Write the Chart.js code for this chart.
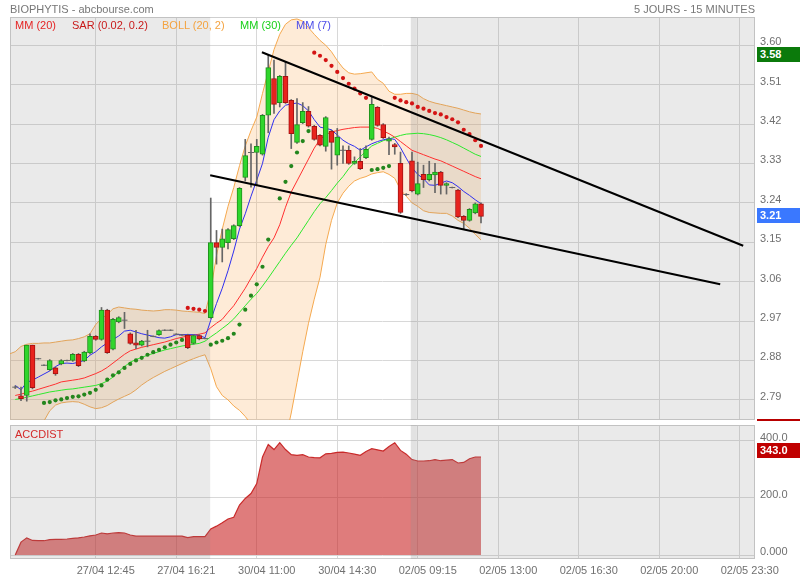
<!DOCTYPE html>
<html>
<head>
<meta charset="utf-8">
<title>BIOPHYTIS - abcbourse.com</title>
<script src="https://cdn.jsdelivr.net/npm/chart.js@4.4.1/dist/chart.umd.min.js"></script>
<style>
  html, body { margin: 0; padding: 0; background: #fff; }
  #page { position: relative; width: 800px; height: 580px; overflow: hidden; font-family: "Liberation Sans", Arial, sans-serif; }
  #page canvas { position: absolute; left: 0; }
  .txt { position: absolute; font-size: 11px; line-height: 12px; white-space: nowrap; }
  .badge { position: absolute; left: 757px; width: 43px; height: 15px; line-height: 15px; padding-left: 3px; box-sizing: border-box; color: #fff; font-size: 11px; font-weight: bold; }
</style>
</head>
<body>
<div id="page">
  <canvas id="priceChart" width="800" height="425" style="top:0"></canvas>
  <canvas id="accChart" width="800" height="160" style="top:420px"></canvas>

  <div class="txt" style="left:10px;top:3px;color:#777">BIOPHYTIS - abcbourse.com</div>
  <div class="txt" style="right:45px;top:3px;color:#777">5 JOURS - 15 MINUTES</div>

  <div class="txt" style="left:15px;top:19px;color:#e52424">MM (20)</div>
  <div class="txt" style="left:72px;top:19px;color:#c81a1a">SAR (0.02, 0.2)</div>
  <div class="txt" style="left:162px;top:19px;color:#f4a340">BOLL (20, 2)</div>
  <div class="txt" style="left:240px;top:19px;color:#18d018">MM (30)</div>
  <div class="txt" style="left:296px;top:19px;color:#4a4ae8">MM (7)</div>

  <div class="txt" style="left:15px;top:428px;color:#d42a2a">ACCDIST</div>
  <div style="position:absolute;left:757px;top:419px;width:43px;height:2px;background:#b80000"></div>

  <div class="badge" id="hiBadge" style="background:#0b7a0b"></div>
  <div class="badge" id="lastBadge" style="background:#3a78ff"></div>
  <div class="badge" id="accBadge" style="background:#c00000"></div>
</div>

<script>
// x axis: one slot per 15 min bar, labels every 14 bars
const tickIndex = [14, 28, 42, 56, 70, 84, 98, 112, 126];
const tickLabels = ['27/04 12:45', '27/04 16:21', '30/04 11:00', '30/04 14:30', '02/05 09:15',
                    '02/05 13:00', '02/05 16:30', '02/05 20:00', '02/05 23:30'];
const priceTicks = [2.79, 2.88, 2.97, 3.06, 3.15, 3.24, 3.33, 3.42, 3.51, 3.60];
const accTicks = [0, 200, 400];

const openP = [
  2.819, 2.799, 2.800, 2.915, 2.884, 2.869, 2.859, 2.863, 2.872, 2.880,
  2.880, 2.894, 2.879, 2.897, 2.935, 2.928, 2.995, 2.906, 2.968, 2.972,
  2.941, 2.920, 2.915, 2.924, 2.935, 2.939, 2.949, 2.949, 2.940, 2.938,
  2.938, 2.919, 2.937, 2.930, 2.978, 3.149, 3.138, 3.149, 3.158, 3.188,
  3.298, 3.355, 3.355, 3.351, 3.440, 3.524, 3.469, 3.529, 3.474, 3.378,
  3.423, 3.449, 3.415, 3.394, 3.369, 3.404, 3.349, 3.360, 3.360, 3.330,
  3.335, 3.343, 3.385, 3.458, 3.419, 3.381, 3.373, 3.330, 3.259, 3.336,
  3.260, 3.305, 3.293, 3.304, 3.310, 3.280, 3.275, 3.269, 3.209, 3.200,
  3.217, 3.238];
const highP = [
  2.822, 2.819, 2.915, 2.915, 2.885, 2.870, 2.882, 2.865, 2.882, 2.881,
  2.896, 2.896, 2.901, 2.941, 2.937, 3.001, 2.997, 2.976, 2.980, 2.990,
  2.943, 2.949, 2.926, 2.949, 2.936, 2.950, 2.950, 2.950, 2.941, 2.939,
  2.940, 2.939, 2.939, 2.931, 3.251, 3.177, 3.180, 3.181, 3.190, 3.275,
  3.385, 3.375, 3.385, 3.442, 3.577, 3.566, 3.531, 3.562, 3.476, 3.478,
  3.469, 3.460, 3.417, 3.396, 3.437, 3.406, 3.410, 3.370, 3.370, 3.345,
  3.364, 3.370, 3.481, 3.460, 3.421, 3.390, 3.376, 3.356, 3.261, 3.356,
  3.333, 3.326, 3.335, 3.330, 3.312, 3.286, 3.276, 3.271, 3.211, 3.227,
  3.240, 3.240];
const lowP = [
  2.816, 2.788, 2.787, 2.815, 2.883, 2.868, 2.857, 2.846, 2.870, 2.879,
  2.878, 2.866, 2.877, 2.895, 2.926, 2.926, 2.896, 2.904, 2.966, 2.953,
  2.917, 2.907, 2.913, 2.911, 2.934, 2.937, 2.948, 2.948, 2.939, 2.937,
  2.907, 2.917, 2.927, 2.929, 2.976, 3.100, 3.105, 3.135, 3.156, 3.186,
  3.290, 3.276, 3.280, 3.349, 3.400, 3.444, 3.459, 3.467, 3.364, 3.376,
  3.421, 3.413, 3.383, 3.370, 3.358, 3.317, 3.326, 3.330, 3.328, 3.328,
  3.316, 3.341, 3.383, 3.415, 3.387, 3.350, 3.351, 3.216, 3.257, 3.265,
  3.258, 3.275, 3.290, 3.263, 3.260, 3.260, 3.274, 3.206, 3.181, 3.198,
  3.215, 3.194];
const closeP = [
  2.819, 2.793, 2.915, 2.818, 2.884, 2.869, 2.880, 2.849, 2.880, 2.880,
  2.894, 2.868, 2.899, 2.935, 2.928, 2.995, 2.898, 2.974, 2.978, 2.972,
  2.919, 2.915, 2.924, 2.924, 2.935, 2.948, 2.949, 2.949, 2.940, 2.938,
  2.909, 2.937, 2.929, 2.930, 3.149, 3.138, 3.158, 3.179, 3.188, 3.273,
  3.348, 3.355, 3.369, 3.440, 3.549, 3.465, 3.529, 3.469, 3.398, 3.419,
  3.449, 3.415, 3.385, 3.372, 3.435, 3.378, 3.390, 3.360, 3.330, 3.335,
  3.318, 3.362, 3.465, 3.417, 3.389, 3.386, 3.368, 3.218, 3.259, 3.267,
  3.284, 3.293, 3.305, 3.310, 3.280, 3.284, 3.275, 3.208, 3.200, 3.225,
  3.238, 3.209];

const ma7 = [
  2.823, 2.813, 2.830, 2.835, 2.842, 2.849, 2.856, 2.866, 2.873, 2.874,
  2.873, 2.876, 2.880, 2.892, 2.900, 2.911, 2.920, 2.928, 2.936, 2.947,
  2.949, 2.945, 2.941, 2.938, 2.935, 2.932, 2.931, 2.934, 2.939, 2.939,
  2.939, 2.939, 2.937, 2.932, 2.972, 3.010, 3.045, 3.085, 3.130, 3.180,
  3.215, 3.255, 3.292, 3.330, 3.390, 3.430, 3.450, 3.463, 3.466, 3.468,
  3.462, 3.450, 3.430, 3.413, 3.410, 3.407, 3.395, 3.383, 3.375, 3.369,
  3.360, 3.368, 3.375, 3.380, 3.384, 3.387, 3.385, 3.366, 3.342, 3.320,
  3.305, 3.295, 3.281, 3.280, 3.285, 3.290, 3.286, 3.277, 3.266, 3.257,
  3.247, 3.238];
const ma20 = [
  2.800, 2.803, 2.807, 2.810, 2.814, 2.818, 2.822, 2.826, 2.831, 2.833,
  2.835, 2.837, 2.840, 2.845, 2.850, 2.856, 2.864, 2.874, 2.884, 2.894,
  2.902, 2.906, 2.910, 2.913, 2.916, 2.919, 2.922, 2.926, 2.930, 2.933,
  2.936, 2.938, 2.940, 2.943, 2.955, 2.965, 2.974, 2.990, 3.005, 3.025,
  3.045, 3.068, 3.090, 3.116, 3.140, 3.160, 3.190, 3.230, 3.265, 3.290,
  3.315, 3.340, 3.365, 3.385, 3.396, 3.402, 3.405, 3.408, 3.410, 3.412,
  3.413, 3.413, 3.413, 3.410, 3.404, 3.398, 3.390, 3.380, 3.370, 3.360,
  3.355, 3.350, 3.345, 3.340, 3.336, 3.330, 3.324, 3.318, 3.312, 3.306,
  3.300, 3.295];
const ma30 = [
  2.791, 2.793, 2.796, 2.799, 2.802, 2.805, 2.808, 2.810, 2.812, 2.814,
  2.815, 2.817, 2.819, 2.821, 2.823, 2.827, 2.833, 2.842, 2.855, 2.866,
  2.876, 2.882, 2.887, 2.892, 2.896, 2.900, 2.904, 2.907, 2.910, 2.913,
  2.915, 2.917, 2.919, 2.924, 2.934, 2.943, 2.953, 2.963, 2.975, 2.990,
  3.005, 3.020, 3.033, 3.050, 3.068, 3.087, 3.106, 3.125, 3.143, 3.160,
  3.180, 3.200, 3.220, 3.238, 3.252, 3.268, 3.285, 3.300, 3.318, 3.332,
  3.345, 3.358, 3.370, 3.376, 3.382, 3.386, 3.390, 3.394, 3.397, 3.398,
  3.399, 3.398, 3.396, 3.393, 3.389, 3.384, 3.378, 3.372, 3.365, 3.358,
  3.351, 3.346];

// bollinger bands start one bar before the first visible candle
const bandStart = -1;
const bollUpper = [
  2.895, 2.900, 2.912, 2.917, 2.919, 2.919, 2.920, 2.920, 2.922, 2.924,
  2.926, 2.927, 2.930, 2.934, 2.941, 2.962, 2.976, 2.985, 2.998, 3.002,
  3.000, 2.998, 2.997, 2.995, 2.994, 2.993, 2.994, 2.996, 2.996, 2.995,
  2.993, 2.992, 2.991, 2.990, 2.987, 3.040, 3.120, 3.180, 3.232, 3.275,
  3.325, 3.370, 3.405, 3.436, 3.490, 3.540, 3.590, 3.625, 3.648, 3.658,
  3.660, 3.655, 3.640, 3.625, 3.611, 3.600, 3.585, 3.565, 3.548, 3.537,
  3.534, 3.535, 3.537, 3.539, 3.522, 3.513, 3.495, 3.488, 3.488, 3.490,
  3.490, 3.487, 3.478, 3.472, 3.468, 3.465, 3.462, 3.459, 3.456, 3.452,
  3.448, 3.445, 3.443];
const bollLower = [
  2.680, 2.680, 2.688, 2.700, 2.712, 2.728, 2.742, 2.765, 2.778, 2.783,
  2.785, 2.786, 2.785, 2.780, 2.774, 2.770, 2.772, 2.777, 2.785, 2.792,
  2.798, 2.804, 2.813, 2.824, 2.833, 2.841, 2.848, 2.855, 2.861, 2.867,
  2.873, 2.879, 2.884, 2.889, 2.893, 2.861, 2.820, 2.800, 2.790, 2.776,
  2.766, 2.752, 2.735, 2.710, 2.690, 2.660, 2.640, 2.640, 2.700, 2.760,
  2.830, 2.900, 2.965, 3.020, 3.070, 3.145, 3.200, 3.240, 3.262, 3.278,
  3.290, 3.296, 3.300, 3.306, 3.309, 3.311, 3.305, 3.296, 3.270, 3.255,
  3.240, 3.232, 3.222, 3.218, 3.217, 3.216, 3.216, 3.210, 3.200, 3.193,
  3.182, 3.168, 3.155];

const sarP = [
  null, null, null, null, null, 2.783, 2.785, 2.789, 2.791, 2.794,
  2.797, 2.798, 2.802, 2.806, 2.813, 2.823, 2.836, 2.846, 2.853, 2.863,
  2.872, 2.880, 2.886, 2.893, 2.899, 2.904, 2.910, 2.916, 2.921, 2.927,
  3.000, 2.998, 2.996, 2.993, 2.916, 2.921, 2.925, 2.931, 2.941, 2.962,
  2.996, 3.028, 3.054, 3.094, 3.156, null, 3.250, 3.288, 3.324, 3.355,
  3.381, 3.404, 3.583, 3.576, 3.566, 3.553, 3.539, 3.525, 3.512, 3.501,
  3.490, 3.480, 3.315, 3.317, 3.320, 3.324, 3.480, 3.474, 3.470, 3.467,
  3.459, 3.455, 3.450, 3.445, 3.442, 3.436, 3.431, 3.424, 3.407, 3.397,
  3.383, 3.370];

const accDist = [
  0, 45, 60, 51, 50, 50, 54, 55, 55, 56,
  58, 60, 63, 67, 70, 77, 74, 77, 78, 77,
  70, 66, 66, 66, 66, 66, 66, 66, 66, 66,
  61, 64, 64, 64, 91, 101, 113, 126, 132, 175,
  198, 215, 250, 343, 387, 369, 393, 369, 351, 349,
  351, 343, 341, 340, 354, 356, 359, 360, 357, 353,
  349, 362, 372, 368, 364, 380, 393, 366, 353, 334,
  329, 329, 330, 334, 330, 332, 334, 322, 324, 337,
  343, 343];

// drawn trend lines: [bar index, price]
const trendUpper = [[42.9, 3.584], [126.6, 3.142]];
const trendLower = [[33.9, 3.303], [122.6, 3.054]];

// shaded (non-current) sessions, in bar index units
const shadeRanges = [[-2, 33.9], [68.8, 131]];
const stripRange = [68.8, 69.8];

const xMin = -0.913, xMax = 128.652;
const priceMin = 2.744, priceMax = 3.6645;
const accMin = -14, accMax = 455;

Chart.defaults.font.family = '"Liberation Sans", Arial, sans-serif';
Chart.defaults.font.size = 11;
Chart.defaults.color = '#707070';

const GREEN = '#30d62c', GREEN_EDGE = '#1f901c';
const RED = '#e8231d', RED_EDGE = '#a51212';

const shadePlugin = {
  id: 'shade',
  afterDatasetDraw(chart, args, opts) {
    if (args.index !== opts.after) return;
    const { ctx, chartArea: a } = chart;
    const x = chart.scales.x;
    ctx.save();
    ctx.beginPath();
    ctx.rect(a.left, a.top, a.right - a.left, a.bottom - a.top);
    ctx.clip();
    ctx.fillStyle = 'rgba(140,140,140,0.18)';
    shadeRanges.forEach(([from, to]) => {
      const x0 = x.getPixelForValue(from), x1 = x.getPixelForValue(to);
      ctx.fillRect(x0, a.top, x1 - x0, a.bottom - a.top);
    });
    ctx.fillStyle = 'rgba(140,140,140,0.09)';
    const s0 = x.getPixelForValue(stripRange[0]), s1 = x.getPixelForValue(stripRange[1]);
    ctx.fillRect(s0, a.top, s1 - s0, a.bottom - a.top);
    ctx.restore();
  }
};

const framePlugin = {
  id: 'frame',
  beforeDatasetsDraw(chart) {
    const { ctx, chartArea: a } = chart;
    ctx.save();
    ctx.strokeStyle = '#cfcfcf';
    ctx.lineWidth = 1;
    ctx.strokeRect(a.left + 0.5, a.top + 0.5, a.right - a.left - 1, a.bottom - a.top - 1);
    ctx.restore();
  }
};

function xAxis(showLabels, height) {
  return {
    type: 'linear', min: xMin, max: xMax, bounds: 'data',
    offset: false,
    afterBuildTicks: s => { s.ticks = tickIndex.map(v => ({ value: v })); },
    ticks: {
      display: showLabels, autoSkip: false, maxRotation: 0, padding: 5, labelOffset: 10,
      color: '#707070',
      callback: v => tickLabels[tickIndex.indexOf(v)]
    },
    grid: { color: '#d8d8d8', drawTicks: false, offset: false },
    border: { display: false },
    afterFit: s => { s.height = height; s.paddingLeft = 0; s.paddingRight = 0; }
  };
}

const idx = closeP.map((_, i) => i);
const pts = arr => arr.map((v, i) => ({ x: i, y: v }));
const isDoji = i => openP[i] === closeP[i];

const priceChart = new Chart(document.getElementById('priceChart'), {
  type: 'bar',
  data: {
    datasets: [
      {
        type: 'line', label: 'BOLL haut', order: 10,
        data: bollUpper.map((v, k) => ({ x: k + bandStart, y: v })),
        borderColor: '#f5a94f', borderWidth: 1, pointRadius: 0,
        fill: '+1', backgroundColor: 'rgba(250,175,95,0.25)'
      },
      {
        type: 'line', label: 'BOLL bas', order: 9,
        data: bollLower.map((v, k) => ({ x: k + bandStart, y: v })),
        borderColor: '#f5a94f', borderWidth: 1, pointRadius: 0, fill: false
      },
      {
        type: 'line', label: 'MM (30)', order: 6, data: pts(ma30),
        borderColor: '#2ee82e', borderWidth: 1, pointRadius: 0, fill: false
      },
      {
        type: 'line', label: 'MM (20)', order: 5, data: pts(ma20),
        borderColor: '#ff3030', borderWidth: 1, pointRadius: 0, fill: false
      },
      {
        type: 'line', label: 'MM (7)', order: 4, data: pts(ma7),
        borderColor: '#2f2fee', borderWidth: 1, pointRadius: 0, fill: false
      },
      {
        type: 'line', label: 'SAR', order: 3, data: pts(sarP), showLine: false,
        pointRadius: 2.1, pointBorderWidth: 0,
        pointBackgroundColor: c => (c.raw && c.raw.y > closeP[c.raw.x]) ? '#d41414' : '#23861d'
      },
      {
        label: 'mèches', order: 2, grouped: false,
        data: idx.map(i => ({ x: i, y: [lowP[i], highP[i]] })),
        backgroundColor: '#666', borderWidth: 0,
        barPercentage: 1, categoryPercentage: 1, maxBarThickness: 1
      },
      {
        label: 'corps', order: 1, grouped: false,
        data: idx.filter(i => !isDoji(i)).map(i => ({ x: i, y: [openP[i], closeP[i]] })),
        backgroundColor: c => closeP[c.raw.x] > openP[c.raw.x] ? GREEN : RED,
        borderColor: c => closeP[c.raw.x] > openP[c.raw.x] ? GREEN_EDGE : RED_EDGE,
        borderWidth: 1, borderSkipped: false,
        barPercentage: 1, categoryPercentage: 1, maxBarThickness: 5
      },
      {
        type: 'line', label: 'doji', order: 1, showLine: false,
        data: idx.filter(isDoji).map(i => ({ x: i, y: openP[i] })),
        pointStyle: 'line', pointRadius: 3, pointBorderColor: '#666', pointBorderWidth: 1
      },
      {
        type: 'line', label: 'tendance haute', order: 0,
        data: trendUpper.map(([x, y]) => ({ x, y })),
        borderColor: '#000', borderWidth: 2, pointRadius: 0, fill: false
      },
      {
        type: 'line', label: 'tendance basse', order: 0,
        data: trendLower.map(([x, y]) => ({ x, y })),
        borderColor: '#000', borderWidth: 2, pointRadius: 0, fill: false
      }
    ]
  },
  options: {
    responsive: false, animation: false, events: [],
    layout: { padding: { left: 10, top: 17, right: 0, bottom: 0 } },
    plugins: { legend: { display: false }, tooltip: { enabled: false }, shade: { after: 1 } },
    scales: {
      x: xAxis(false, 5),
      y: {
        type: 'linear', position: 'right', min: priceMin, max: priceMax, bounds: 'data',
        beginAtZero: false,
        afterBuildTicks: s => { s.ticks = priceTicks.map(v => ({ value: v })); },
        ticks: { padding: 5, labelOffset: -3, color: '#707070', callback: v => v.toFixed(2) },
        grid: { color: '#d8d8d8', drawTicks: false },
        border: { display: false },
        afterFit: s => { s.width = 45; s.paddingTop = 0; s.paddingBottom = 0; }
      }
    }
  },
  plugins: [framePlugin, shadePlugin]
});

const accChart = new Chart(document.getElementById('accChart'), {
  type: 'line',
  data: {
    datasets: [{
      label: 'ACCDIST', data: pts(accDist),
      borderColor: '#c92a2a', borderWidth: 1.2, pointRadius: 0,
      fill: 'origin', backgroundColor: 'rgba(200,30,30,0.58)'
    }]
  },
  options: {
    responsive: false, animation: false, events: [],
    layout: { padding: { left: 10, top: 5, right: 0, bottom: 0 } },
    plugins: { legend: { display: false }, tooltip: { enabled: false }, shade: { after: 0 } },
    scales: {
      x: xAxis(true, 21),
      y: {
        type: 'linear', position: 'right', min: accMin, max: accMax, bounds: 'data',
        afterBuildTicks: s => { s.ticks = accTicks.map(v => ({ value: v })); },
        ticks: { padding: 5, labelOffset: -3, color: '#707070', callback: v => v === 0 ? '0.000' : v.toFixed(1) },
        grid: { color: '#d8d8d8', drawTicks: false },
        border: { display: false },
        afterFit: s => { s.width = 45; s.paddingTop = 0; s.paddingBottom = 0; }
      }
    }
  },
  plugins: [framePlugin, shadePlugin]
});

function placeBadge(id, top, text) {
  const el = document.getElementById(id);
  el.style.top = top + 'px';
  el.textContent = text;
}
const hi = Math.max(...highP);
const last = closeP[closeP.length - 1];
const lastAcc = accDist[accDist.length - 1];
placeBadge('hiBadge', priceChart.scales.y.getPixelForValue(hi) - 8, hi.toFixed(2));
placeBadge('lastBadge', priceChart.scales.y.getPixelForValue(last) - 8, last.toFixed(2));
placeBadge('accBadge', 420 + accChart.scales.y.getPixelForValue(lastAcc) - 14, lastAcc.toFixed(1));
</script>
</body>
</html>
